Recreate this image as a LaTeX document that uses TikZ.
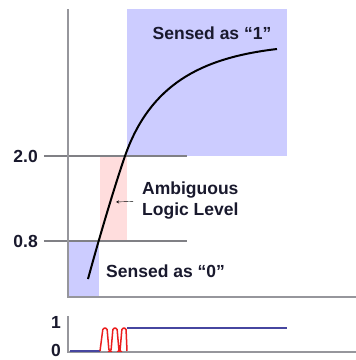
\documentclass[tikz,border=0pt]{standalone}
\usepackage{fontspec}
\setmainfont{Liberation Sans}
\usetikzlibrary{arrows, positioning}
\definecolor{zoneblue}{RGB}{204,204,255}
\definecolor{zonepink}{RGB}{255,221,221}
\definecolor{axisgray}{RGB}{150,150,156}
\definecolor{labelink}{RGB}{25,25,45}
\definecolor{sigblue}{RGB}{70,70,160}
\definecolor{sigred}{RGB}{235,30,30}

\begin{document}
\begin{tikzpicture}[x=1pt, y=-1pt,
    lbl/.style={font=\fontsize{17.5}{21}\selectfont\bfseries, text=labelink, inner sep=0pt},
    axis/.style={axisgray, line width=2pt},
    level/.style={axisgray!85!black, line width=1.5pt}]

    \useasboundingbox (0,0) rectangle (356,360);

    % Regions (background)
    \fill[zoneblue] (127,9) rectangle (287,156);
    \fill[zonepink] (100,156) rectangle (127,241);
    \fill[zoneblue] (68,241) rectangle (99,297);

    % Thresholds
    \draw[level] (44,156) -- (187,156);
    \draw[level] (44,241) -- (187,241);
    \node[lbl, anchor=east] (vhigh) at (38,156) {2.0};
    \node[lbl, anchor=east] (vlow) at (38,241) {0.8};

    % Axes
    \draw[axis] (68,9) -- (68,297) -- (356,297);

    % Input voltage curve
    \draw[black, line width=2pt] (88,279) .. controls (100,235) and (115,185) .. (125,156)
        .. controls (150,85) and (200,58) .. (277,49);

    % Labels
    \node[lbl] (one) at (212,33) {Sensed as “1”};
    \node[lbl, anchor=west] (zero) at (106,271) {Sensed as “0”};
    \node[lbl, anchor=west, align=left] (amb) at (142,201) {Ambiguous\\Logic Level};
    \coordinate (hit) at (116,202);
    \draw[-stealth, thin, shorten <=9pt] (amb.west) -- (hit);

    % Logic output
    \draw[axis] (68,316) -- (68,352) -- (356,352);
    \node[lbl] (bit1) at (56,322) {1};
    \node[lbl] (bit0) at (56,350) {0};
    \draw[sigblue, line width=2.5pt] (70,351) -- (100,351);
    \draw[sigred, line width=1.5pt, rounded corners=1.5pt]
        (100,351) -- (103,328) -- (107,328) -- (109,351) -- (111,351)
        -- (113,328) -- (117,328) -- (119,351) -- (120,351)
        -- (122,328) -- (126,328) -- (127,351);
    \draw[sigblue, line width=2.5pt] (127,328) -- (287,328);

\end{tikzpicture}
\end{document}
